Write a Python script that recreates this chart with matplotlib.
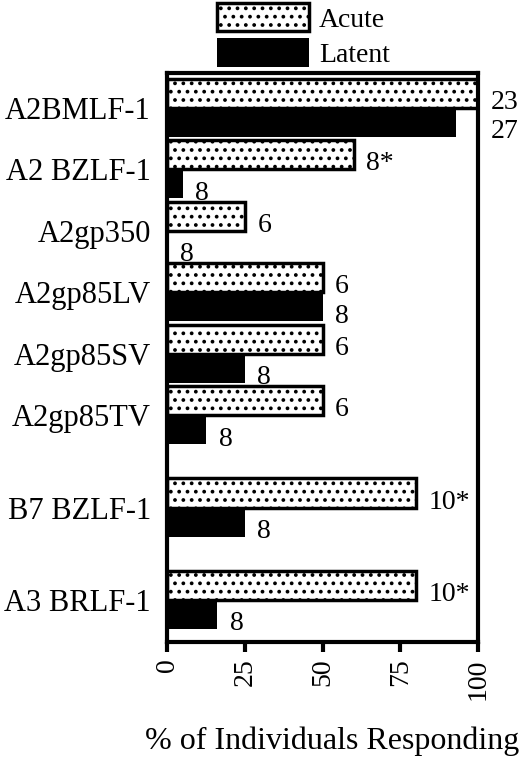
import matplotlib
matplotlib.use("Agg")
import matplotlib.pyplot as plt
import numpy as np

categories = ["A2BMLF-1", "A2 BZLF-1", "A2gp350", "A2gp85LV",
              "A2gp85SV", "A2gp85TV", "B7 BZLF-1", "A3 BRLF-1"]
acute = [100, 60, 25, 50, 50, 50, 80, 80]
latent = [93, 5, 0, 50, 25, 12.5, 25, 16]
acute_n = ["23", "8*", "6", "6", "6", "6", "10*", "10*"]
latent_n = ["27", "8", "8", "8", "8", "8", "8", "8"]
xticks = [0, 25, 50, 75, 100]

plt.rcParams['font.family'] = ['Liberation Serif', 'DejaVu Serif']
plt.rcParams['hatch.linewidth'] = 1.5

fig = plt.figure(figsize=(5.2, 7.57), dpi=100)
ax = fig.add_axes([0.322, 0.152, 0.597, 0.752])

# pairs sit 2 bar-heights apart, last two groups get extra room
pos = np.array([0, 2, 4, 6, 8, 10, 13, 16], dtype=float)
h = 0.95

ax.barh(pos - h / 2, acute, height=h, color='white', edgecolor='black',
        linewidth=2.5, hatch='..', label='Acute')
ax.barh(pos + h / 2, latent, height=h, color='black', edgecolor='black',
        linewidth=0, label='Latent')

# n labels next to the bars (pushed outside the frame when the bar is long)
for ys, vals, labs in [(pos - h / 2, acute, acute_n), (pos + h / 2, latent, latent_n)]:
    for y, v, t in zip(ys, vals, labs):
        x = v + 4 if v < 90 else 104
        ax.text(x, y + 0.3, t, ha='left', va='center', fontsize=20, clip_on=False)

ax.set_xlim(0, 100)
ax.set_ylim(17.37, -1.14)
ax.set_xticks(xticks)
ax.set_yticks(pos)
ax.set_yticklabels(categories, fontsize=22)
ax.tick_params(axis='y', length=0, pad=12)
ax.tick_params(axis='x', direction='out', length=7, width=3, labelsize=20,
               labelrotation=90, pad=5)
for s in ax.spines.values():
    s.set_linewidth(3)

fig.text(0.638, 1 - 741 / 757, '% of Individuals Responding', ha='center',
         va='center', fontsize=23)

fig.legend(loc='upper left', bbox_to_anchor=(217 / 520, 1 - 3 / 757),
           frameon=False, fontsize=20, handlelength=3.3, handleheight=1.2,
           labelspacing=0.2, handletextpad=0.38, borderpad=0, borderaxespad=0)

fig.savefig('out.png', dpi=100)
